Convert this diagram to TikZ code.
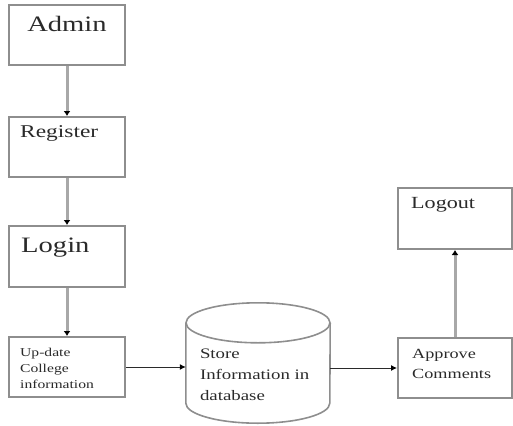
\documentclass[tikz,border=0pt]{standalone}
\usepackage{fontspec}
\setmainfont[FakeStretch=1.3]{Liberation Serif}
\usepackage{tikz}
\usetikzlibrary{arrows.meta}
\definecolor{boxgray}{HTML}{8E8E8E}
\definecolor{linegray}{HTML}{A8A8A8}
\definecolor{inkgray}{HTML}{2A2A2A}
\tikzset{
	boxstyle/.style={rectangle,draw=boxgray,line width=2pt,minimum width=116,minimum height=60,inner sep=0},
	dbstyle/.style={rectangle,minimum width=144,minimum height=120,inner sep=0},
	dbline/.style={draw=boxgray,line width=1.6pt},
	textstyle/.style={inner sep=0,text=inkgray,align=left},
	downstyle/.style={draw=linegray,line width=3pt,-{Latex[length=5pt,width=7pt,color=black]}},
	flowstyle/.style={draw=inkgray,line width=1pt,-{Latex[length=6pt,width=6pt,color=black]}}
}
\begin{document}
\begin{tikzpicture}[x=1pt,y=-1pt]
	\useasboundingbox (0,0) rectangle (513,425);
	\node[boxstyle] (admin) at (67,35) {};
	\node[textstyle,anchor=base,font=\fontsize{22}{26}\selectfont] (admintxt) at ([yshift=-28]admin.north) {Admin};
	\node[boxstyle] (register) at (67,147) {};
	\node[textstyle,anchor=base west,font=\fontsize{18}{22}\selectfont] (registertxt) at ([xshift=12,yshift=-21]register.north west) {Register};
	\draw[downstyle] (admin)--(register);
	\node[boxstyle,minimum height=61] (login) at (67,256.5) {};
	\node[textstyle,anchor=base west,font=\fontsize{22}{26}\selectfont] (logintxt) at ([xshift=13,yshift=-27]login.north west) {Login};
	\draw[downstyle] (register)--(login);
	\node[boxstyle] (update) at (67,367) {};
	\node[textstyle,anchor=north west,font=\fontsize{12}{16}\selectfont] (updatetxt) at ([xshift=12,yshift=-12]update.north west) {Up-date\\College\\information};
	\draw[downstyle] (login)--(update);
	% database drum
	\node[dbstyle] (db) at (258,363) {};
	\draw[dbline] ([yshift=-20]db.north) ellipse [x radius=72,y radius=20];
	\draw[dbline] ([yshift=-20]db.north west) -- ([yshift=20]db.south west)
		arc[start angle=180,end angle=0,x radius=72,y radius=20] -- ([yshift=-20]db.north east);
	\node[textstyle,anchor=north west,font=\fontsize{14.5}{21}\selectfont] (dbtxt) at ([xshift=14,yshift=-46]db.north west) {Store\\Information in\\database};
	\draw[flowstyle] (update.east)--(update.east -| db.west);
	\node[boxstyle,minimum width=114] (approve) at (455,368) {};
	\node[textstyle,anchor=north west,font=\fontsize{14}{20}\selectfont] (approvetxt) at ([xshift=15,yshift=-12]approve.north west) {Approve\\Comments};
	\draw[flowstyle] (approve.west -| db.east)--(approve.west);
	\node[boxstyle,minimum width=114,minimum height=61] (logout) at (455,218.5) {};
	\node[textstyle,anchor=base west,font=\fontsize{17}{21}\selectfont] (logouttxt) at ([xshift=14,yshift=-21]logout.north west) {Logout};
	\draw[downstyle] (approve)--(logout);
\end{tikzpicture}
\end{document}
